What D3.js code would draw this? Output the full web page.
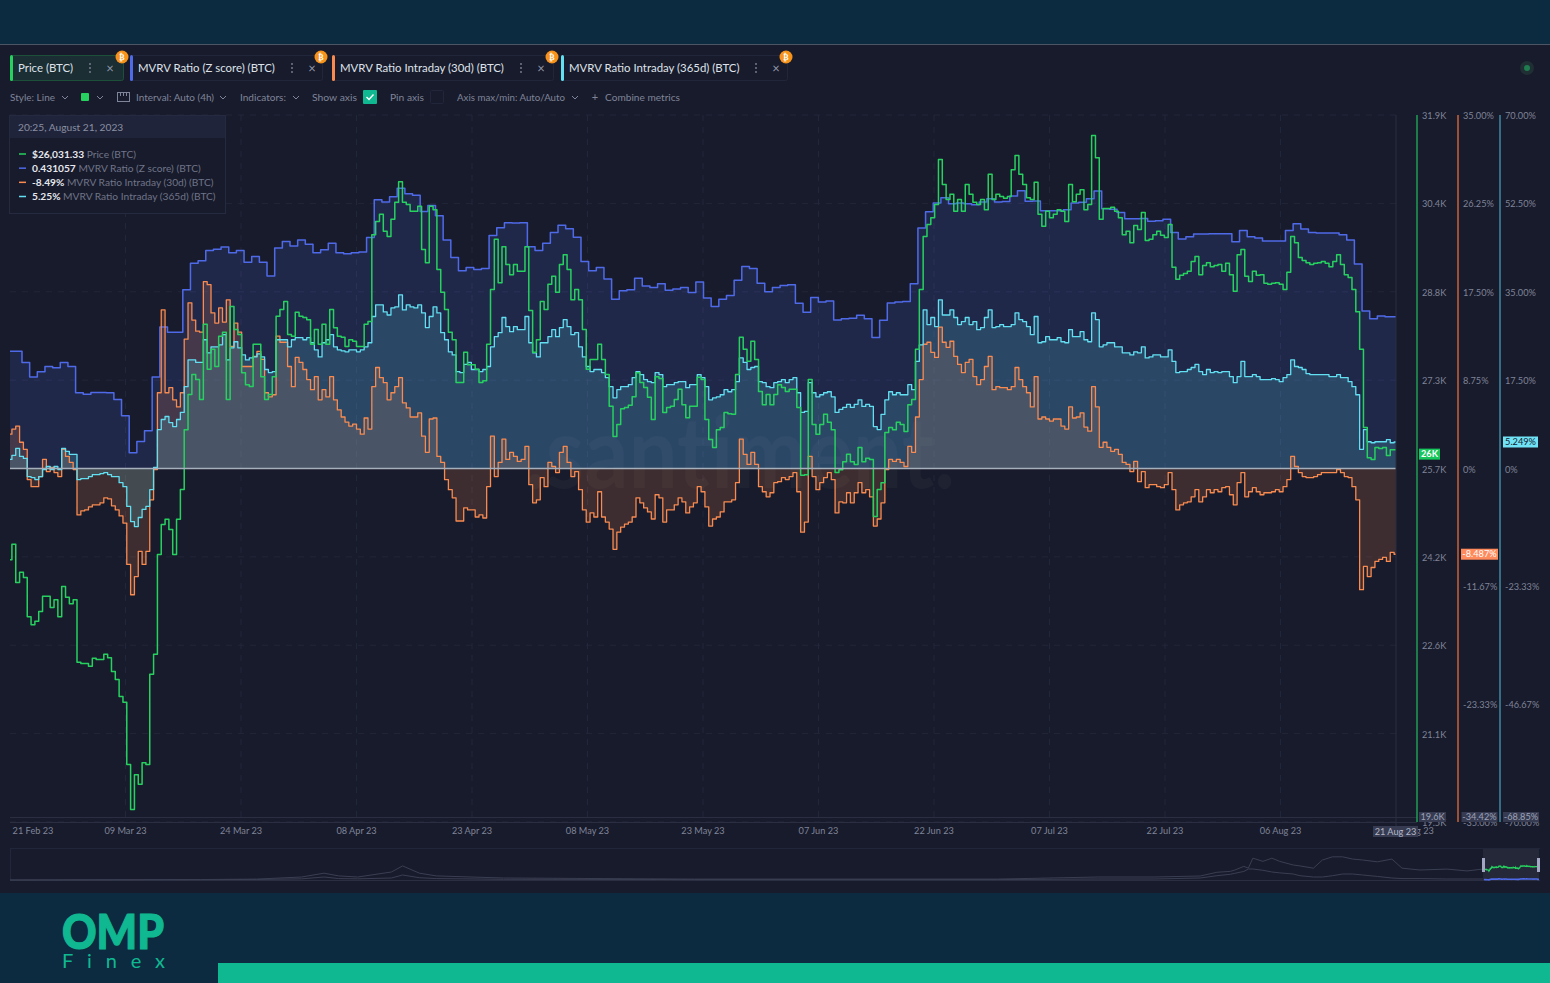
<!DOCTYPE html>
<html>
<head>
<meta charset="utf-8">
<title>BTC MVRV</title>
<script src="https://cdn.jsdelivr.net/npm/d3@7"></script>
<style>
  html, body { margin: 0; padding: 0; background: #0d2b40; }
  svg { display: block; }
  text { font-family: Lato, "Open Sans", sans-serif; }
</style>
</head>
<body>
<div id="chart"></div>
<script>
// 12h samples, 21 Feb 20:25 -> 21 Aug 20:25 (USD)
const priceValues = [
  24100,24370,23700,23880,23790,23100,22960,23020,23190,23460,23460,23260,23400,23100,23630,23440,23330,23400,22300,22280,
  22280,22230,22370,22350,22350,22440,22380,22140,22000,21700,21600,20510,19720,20330,20160,20540,20510,22090,22440,24190,
  24720,24810,24630,24190,24810,25330,26380,27000,27350,27260,26910,28230,27440,27790,27490,28020,28090,26910,28540,28140,
  28050,27380,27170,27140,27880,27880,27310,26910,27000,27310,28370,28490,28630,28050,28020,28440,28370,28350,28310,27880,
  28140,27880,28230,27880,28490,28170,28020,28000,27840,27960,27930,27840,27840,28230,28280,29800,30030,30160,29860,29770,
  30070,30370,30730,30370,30330,30210,30210,30300,29540,29310,30300,30240,29190,28790,28490,28090,27960,27210,27210,27740,
  27520,27520,27440,27210,27240,27880,28840,29720,28960,29590,29280,29100,29280,29160,29160,29590,28470,27740,27960,28630,
  28490,28930,29070,28790,29280,29450,29190,28660,28840,28660,28140,27440,27610,27610,27880,27610,27350,26790,26260,26470,
  26750,26770,26810,26960,27380,27210,27120,26950,26560,27310,27280,26680,26770,26790,26910,27090,26820,26590,26790,26790,
  27300,27260,26560,26210,26070,26380,26420,26680,26660,26650,27350,28000,27790,27580,27930,27610,27050,26820,27000,26820,
  27000,27170,27120,27050,27090,27090,26770,25580,25590,27260,26470,26300,26470,26650,26510,26380,25630,25680,25820,25950,
  25820,25770,26070,25820,25880,25860,24860,25330,25450,26330,26420,26380,26510,26470,26350,26820,26910,27790,28840,29770,
  29980,30100,30330,31120,30680,30420,30510,30210,30420,30210,30680,30510,30370,30330,30420,30240,30860,30420,30510,30470,
  30440,30470,30940,31190,30860,30680,30450,30420,30720,30160,29950,30210,30100,30160,30240,30210,30030,30680,30380,30510,
  30590,30240,30330,31540,31150,30070,30260,30260,30280,30210,30100,29800,29860,29660,29960,29890,30190,29700,29720,29800,
  29860,29790,29750,29980,29230,29020,29090,29120,29160,29330,29420,29100,29260,29310,29240,29260,29280,29160,29300,29100,
  28810,29450,29540,29070,28980,29160,29090,29100,28950,28930,28950,28960,28930,28840,29140,29770,29660,29400,29350,29310,
  29280,29300,29310,29330,29300,29240,29330,29450,29280,29100,29050,28840,28450,27790,26420,25890,25860,26070,26050,26070,
  25930,26030,26031
];

// MVRV intraday 30d (%), same 12h samples
const mvrv30Values = [
  3.4,3.9,4.2,2.6,1.9,-1.1,-1.8,-1.8,-0.8,0.9,-0.3,0.1,-0.4,-0.8,1.9,1.2,0.6,-0.1,-4.6,-4.2,
  -4.1,-3.8,-3.6,-3.6,-3.4,-2.9,-3.0,-3.7,-4.1,-4.7,-5.4,-9.5,-12.5,-10.7,-8.2,-9.5,-8.2,-3.1,-0.1,7.5,
  15.7,7.5,8.0,6.8,6.1,7.5,12.8,16.4,14.7,13.6,13.5,18.5,18.2,15.4,14.4,15.9,14.5,16.7,12.1,14.4,
  13.5,10.1,10.1,10.1,11.1,11.6,10.8,7.5,7.1,7.3,13.1,12.5,12.5,10.1,8.1,11.0,10.5,9.8,8.8,7.8,
  9.1,6.8,7.8,7.1,9.1,6.8,5.8,5.1,4.6,4.2,4.4,3.9,3.4,5.0,3.9,8.1,10.0,9.0,8.5,6.8,
  7.5,8.1,9.0,6.5,6.0,5.1,5.1,5.5,3.2,1.6,4.9,5.0,1.2,0.6,-1.1,-2.1,-2.9,-5.2,-5.2,-3.9,
  -4.1,-4.1,-4.8,-4.6,-4.9,-1.8,3.2,-0.8,0.6,2.9,0.9,1.6,1.2,0.7,0.9,2.2,-1.6,-3.4,-3.1,-0.9,
  -1.8,0.6,0.2,-0.4,1.6,2.2,0.6,-0.8,-0.3,-2.1,-4.1,-5.3,-4.4,-4.8,-2.3,-4.8,-5.3,-6.0,-8.0,-6.3,
  -5.8,-5.5,-5.3,-4.8,-2.9,-3.4,-3.9,-4.3,-5.0,-2.6,-2.9,-5.3,-4.1,-4.1,-3.6,-2.9,-3.3,-4.4,-3.8,-3.4,
  -1.8,-2.3,-3.8,-5.7,-5.0,-4.8,-4.3,-3.3,-3.3,-3.1,-1.4,2.9,1.4,0.4,1.6,0.4,-1.8,-2.3,-2.8,-2.4,
  -1.4,-1.3,-0.9,-1.1,-0.8,-0.4,-2.3,-6.3,-5.3,1.2,-0.8,-2.1,-1.4,-0.9,-0.4,-1.1,-4.4,-3.3,-3.4,-2.4,
  -3.4,-2.4,-1.4,-2.4,-2.1,-2.8,-5.7,-5.0,-3.4,-0.1,0.9,0.7,0.9,0.6,0.2,2.2,1.6,5.1,8.8,12.3,
  12.5,11.5,11.0,14.0,12.5,12.0,12.6,11.1,10.3,9.5,10.5,10.8,9.1,8.3,8.8,10.1,11.1,7.8,8.1,8.0,
  8.0,7.8,8.1,10.0,8.8,8.1,7.5,6.1,9.1,4.9,5.1,4.9,4.7,4.9,4.9,4.2,3.9,6.1,5.0,5.1,
  5.5,4.1,3.7,8.1,6.1,2.1,2.6,2.1,1.7,1.9,1.4,0.6,0.4,-0.3,0.7,-1.3,-0.3,-1.9,-1.6,-1.6,
  -1.8,-1.9,-1.6,-0.4,-2.1,-4.1,-3.6,-3.4,-3.3,-2.8,-2.1,-3.3,-2.8,-2.1,-2.4,-2.1,-2.3,-1.9,-1.8,-2.6,
  -3.6,-1.4,-0.4,-2.8,-2.3,-1.9,-2.3,-2.6,-2.4,-2.4,-2.3,-2.1,-2.3,-1.8,-1.1,1.2,0.2,-0.4,-0.8,-0.9,
  -0.9,-0.8,-0.6,-0.4,-0.4,-0.4,-0.4,-0.1,-0.4,-0.8,-0.9,-1.8,-3.1,-12.0,-9.7,-10.7,-9.8,-9.2,-9.0,-8.8,
  -9.2,-8.3,-8.49
];

// MVRV intraday 365d (%), same 12h samples
const mvrv365Values = [
  1.8,2.6,4.0,2.4,2.0,-1.6,-1.8,-2.2,-1.6,-0.2,0.4,-0.2,0.4,-0.2,4.0,3.4,2.8,2.8,-2.2,-2.0,
  -2.0,-1.6,-1.2,-1.2,-1.0,-0.8,-1.2,-1.6,-1.6,-2.8,-3.6,-7.5,-10.5,-11.5,-9.7,-8.1,-7.5,-4.2,0.2,7.7,
  9.7,10.3,9.1,8.3,9.7,11.1,16.2,21.5,21.5,21.0,21.0,25.5,22.9,24.1,24.1,24.5,26.5,21.5,23.9,25.1,
  23.9,22.5,21.5,21.9,22.1,22.7,22.1,19.6,19.0,19.2,25.5,25.5,25.5,24.1,25.5,25.9,25.9,25.5,25.9,24.9,
  23.5,22.1,24.9,25.5,26.5,24.1,23.5,23.3,23.1,23.5,23.5,23.1,23.5,24.1,24.9,30.1,32.4,32.4,31.0,30.4,
  31.8,32.0,34.4,31.4,32.4,32.0,31.8,32.4,30.8,27.9,30.1,32.0,30.8,26.9,25.5,23.1,22.5,19.2,19.0,20.6,
  21.0,19.6,19.6,19.2,19.6,20.2,24.1,26.1,26.9,29.9,28.1,27.1,28.1,27.5,27.5,30.1,24.9,22.9,22.1,24.9,
  24.9,26.1,27.5,26.1,27.9,29.5,28.1,26.5,26.9,24.1,22.1,20.2,19.2,19.6,19.6,19.0,18.0,16.2,14.0,15.6,
  16.2,16.2,16.6,18.0,19.2,18.6,17.6,17.2,17.0,19.0,18.6,16.2,16.6,16.6,17.0,17.2,17.2,16.0,16.6,16.6,
  18.6,18.0,16.2,13.6,14.0,14.2,14.6,15.6,15.2,15.6,17.2,21.9,21.0,19.6,20.0,20.2,17.2,17.0,16.2,16.0,
  17.0,17.2,17.6,17.0,17.6,18.0,15.0,11.1,11.3,17.0,15.0,14.2,14.6,15.0,15.2,14.2,11.1,11.7,12.1,12.7,
  12.1,12.7,13.6,12.3,12.7,12.3,8.3,7.7,10.7,13.6,15.2,14.6,15.0,14.6,14.6,16.6,15.6,21.2,24.5,31.4,
  28.5,29.9,28.1,33.4,30.4,30.4,31.4,29.9,28.5,29.1,29.9,28.5,29.1,27.5,27.9,29.9,31.4,27.9,28.1,28.5,
  28.1,28.1,28.5,30.8,29.5,29.1,28.1,26.5,30.1,24.9,25.1,26.1,25.5,25.5,25.9,25.1,24.9,27.5,26.1,26.1,
  27.1,25.5,25.1,30.8,29.5,24.1,24.5,24.9,24.9,24.1,24.1,22.9,22.9,22.5,23.1,22.9,24.1,21.9,22.1,22.5,
  22.5,22.1,22.1,23.5,21.2,19.0,19.2,19.2,19.6,20.0,20.6,19.2,18.6,19.6,19.0,19.2,19.0,19.2,19.2,18.2,
  17.0,18.2,21.2,18.2,18.2,18.6,18.2,17.6,17.6,17.6,17.8,17.6,17.2,18.0,18.6,21.5,20.2,20.0,19.6,18.8,
  18.6,18.6,18.6,18.6,18.6,18.2,18.2,18.6,18.0,18.0,17.2,16.2,14.6,3.8,7.7,5.3,5.1,5.3,5.3,5.3,
  5.7,5.1,5.25
];

// MVRV z score, one value per day from 21 Feb 10:00
const zScoreValues = [
  .333,.333,.301,.260,.275,.290,.286,.301,.290,.215,.211,.216,.216,.215,.196,.150,.045,.077,.107,.260,
  .402,.387,.387,.508,.583,.590,.619,.623,.629,.613,.619,.586,.602,.586,.547,.626,.645,.632,.649,.637,
  .613,.621,.640,.613,.610,.613,.615,.656,.763,.757,.772,.796,.780,.776,.730,.747,.718,.649,.599,.562,
  .571,.565,.568,.662,.684,.698,.697,.698,.630,.619,.640,.670,.691,.681,.657,.588,.562,.571,.538,.481,
  .505,.508,.540,.518,.514,.525,.506,.510,.514,.500,.530,.484,.460,.481,.491,.535,.574,.568,.526,.502,
  .514,.520,.522,.469,.444,.486,.473,.476,.422,.425,.427,.435,.425,.372,.421,.470,.473,.474,.525,.683,
  .729,.754,.769,.752,.754,.752,.749,.757,.766,.757,.758,.774,.789,.759,.760,.732,.732,.732,.735,.754,
  .756,.766,.788,.738,.736,.727,.709,.709,.710,.702,.704,.708,.670,.652,.658,.666,.666,.667,.667,.667,
  .644,.676,.658,.655,.646,.646,.646,.676,.695,.680,.670,.669,.669,.669,.664,.649,.581,.447,.425,.433,
  .431
];

const dateTicks = ['21 Feb 23','09 Mar 23','24 Mar 23','08 Apr 23','23 Apr 23','08 May 23','23 May 23','07 Jun 23','22 Jun 23','07 Jul 23','22 Jul 23','06 Aug 23','21 Aug 23'];
const priceTicks = [31900,30350,28800,27250,25700,24150,22600,21050,19500];
const priceTickLabels = ['31.9K','30.4K','28.8K','27.3K','25.7K','24.2K','22.6K','21.1K','19.5K'];
const mvrv30Ticks = [35,26.25,17.5,8.75,0,-11.67,-23.33,-35];
const mvrv365Ticks = [70,52.5,35,17.5,0,-23.33,-46.67,-70];

// overview strip: full history in years, price (thousand USD) and z score
const miniYears = [2010,2011.7,2012.2,2012.6,2012.8,2012.93,2013.1,2013.4,2013.5,2013.65,2013.8,2014.4,2016.1,2018.8,2019.7,2020.2,2020.61,2020.76,2020.88,2020.92,2021.0,2021.04,2021.08,2021.17,2021.25,2021.32,2021.44,2021.5,2021.62,2021.7,2021.79,2021.88,2021.97,2022.06,2022.19,2022.32,2022.41,2022.57,2022.81,2022.99,2023.13];
const miniPrice = [0,1,2,6.6,15,9,6.6,17.6,31,15,9,4.4,2,2,6.6,6.6,8.8,17,19,22,30,26,48,41,48,41,33,31,26,44,51,51,46,44,40,46,26,22,24,20,24];
const miniZ = [0,.2,.4,.8,2.1,1,.8,1.4,3.5,1.6,1,.5,.3,.3,.7,.7,1.4,3,4,4.7,6,7.7,7.7,6.8,5.6,5,4.2,3,2.1,2.1,3,4.2,4.2,3.5,2.5,1.4,1,1,.7,.7,.7];

const tabLabels = ['Price (BTC)','MVRV Ratio (Z score) (BTC)','MVRV Ratio Intraday (30d) (BTC)','MVRV Ratio Intraday (365d) (BTC)'];
const legendValues = ['$26,031.33','0.431057','-8.49%','5.25%'];
const legendNames = ['Price (BTC)','MVRV Ratio (Z score) (BTC)','MVRV Ratio Intraday (30d) (BTC)','MVRV Ratio Intraday (365d) (BTC)'];

const GREEN = '#26d15f', BLUE = '#4f6ae8', ORANGE = '#f98b50', CYAN = '#62e0f2';
const panel = '#181b2b', tickColor = '#7f8499', faint = '#22263a';
const seriesColors = [GREEN, BLUE, ORANGE, CYAN];

const W = 1550, H = 983;
const plot = { left: 10, right: 1396, top: 115, bottom: 822 };

const svg = d3.select('#chart').append('svg').attr('width', W).attr('height', H);

// page frame
svg.append('rect').attr('width', W).attr('height', H).attr('fill', '#0d2b40');
svg.append('rect').attr('y', 44).attr('width', W).attr('height', 849).attr('fill', panel);
svg.append('line').attr('x1', 0).attr('x2', W).attr('y1', 44.5).attr('y2', 44.5).attr('stroke', '#4b5563');
svg.append('rect').attr('x', 218).attr('y', 963).attr('width', W - 218).attr('height', 20).attr('fill', '#10b891');

// scales
const start = new Date(Date.UTC(2023, 1, 21, 20, 25));
const end = new Date(Date.UTC(2023, 7, 21, 20, 25));
const x = d3.scaleUtc().domain([start, end]).range([plot.left, plot.right]);
const xTick = d3.scalePoint().domain(dateTicks).range([plot.left, plot.right]);
const yPrice = d3.scaleLinear().domain([19500, 31900]).range([plot.bottom, plot.top]);
const y30 = d3.scaleLinear().domain([-35, 35]).range([plot.bottom, plot.top]);
const y365 = d3.scaleLinear().domain([-70, 70]).range([plot.bottom, plot.top]);
const yZ = d3.scaleLinear().domain([-1.004, 1.004]).range([plot.bottom, plot.top]);

const halfDay = i => d3.utcHour.offset(start, 12 * i);
const zDate = i => d3.utcDay.offset(new Date(Date.UTC(2023, 1, 21, 10)), i);

// grid
const grid = svg.append('g').attr('stroke', faint).attr('stroke-dasharray', '6 6');
grid.selectAll('.h').data(priceTicks).enter().append('line')
  .attr('x1', plot.left).attr('x2', plot.right)
  .attr('y1', d => yPrice(d)).attr('y2', d => yPrice(d));
grid.selectAll('.v').data(dateTicks.slice(1, -1)).enter().append('line')
  .attr('x1', d => xTick(d)).attr('x2', d => xTick(d))
  .attr('y1', plot.top).attr('y2', plot.bottom);

// watermark
svg.append('text').text('.santiment.')
  .attr('x', 525).attr('y', 488).attr('textLength', 430).attr('lengthAdjust', 'spacingAndGlyphs')
  .attr('font-size', 100).attr('font-weight', 700).attr('fill', '#fff').attr('fill-opacity', 0.03);

svg.append('defs').append('clipPath').attr('id', 'plot-clip').append('rect')
  .attr('x', plot.left).attr('y', plot.top)
  .attr('width', plot.right - plot.left).attr('height', plot.bottom - plot.top);

const marks = svg.append('g').attr('clip-path', 'url(#plot-clip)');

// z score is stepped, one level per day
const zData = zScoreValues.map((v, i) => ({ date: zDate(i), value: v }));
zData.push({ date: end, value: zScoreValues[zScoreValues.length - 1] });

function addArea(data, scale, color, curve) {
  marks.append('path').datum(data)
    .attr('fill', color).attr('fill-opacity', 0.17)
    .attr('d', d3.area().curve(curve)
      .x(d => x(d.date)).y0(scale(0)).y1(d => scale(d.value)));
}
function addLine(data, scale, color, width, curve) {
  marks.append('path').datum(data)
    .attr('fill', 'none').attr('stroke', color).attr('stroke-width', width)
    .attr('stroke-linejoin', 'round')
    .attr('d', d3.line().curve(curve).x(d => x(d.date)).y(d => scale(d.value)));
}
const toSeries = values => values.map((v, i) => ({ date: halfDay(i), value: v }));
const priceData = toSeries(priceValues);
const data30 = toSeries(mvrv30Values);
const data365 = toSeries(mvrv365Values);

addArea(zData, yZ, BLUE, d3.curveStepAfter);
addArea(data30, y30, ORANGE, d3.curveStep);
addArea(data365, y365, CYAN, d3.curveStep);
addLine(zData, yZ, BLUE, 1.5, d3.curveStepAfter);
addLine(data30, y30, ORANGE, 1.3, d3.curveStep);
addLine(data365, y365, CYAN, 1.3, d3.curveStep);
addLine(priceData, yPrice, GREEN, 1.5, d3.curveStep);

// zero line and cursor lines
svg.append('line').attr('x1', plot.left).attr('x2', plot.right)
  .attr('y1', y30(0)).attr('y2', y30(0)).attr('stroke', '#a6b0bd').attr('stroke-width', 1.3);
svg.append('line').attr('x1', plot.right).attr('x2', plot.right)
  .attr('y1', plot.top).attr('y2', 826).attr('stroke', '#2a2e40');
svg.append('line').attr('x1', plot.left).attr('x2', 1417)
  .attr('y1', 817.5).attr('y2', 817.5).attr('stroke', '#2a2e40');
svg.append('line').attr('x1', plot.left).attr('x2', 1417)
  .attr('y1', 822.5).attr('y2', 822.5).attr('stroke', '#2a2e40');

// right axes
function rightAxis(axisX, color, scale, ticks, labels) {
  svg.append('line').attr('x1', axisX).attr('x2', axisX)
    .attr('y1', plot.top).attr('y2', plot.bottom)
    .attr('stroke', color).attr('stroke-width', 1.5);
  svg.append('g').selectAll('text').data(ticks).enter().append('text')
    .attr('x', axisX + 5).attr('y', d => scale(d) + 0.8).attr('dy', '0.35em')
    .attr('font-size', 9.2).attr('fill', tickColor)
    .text((d, i) => labels[i]);
}
const pctLabel = d => d === 0 ? '0%' : d.toFixed(2) + '%';
rightAxis(1417, '#1f9e55', yPrice, priceTicks, priceTickLabels);
rightAxis(1458, '#c9643c', y30, mvrv30Ticks, mvrv30Ticks.map(pctLabel));
rightAxis(1500, '#3f8aa3', y365, mvrv365Ticks, mvrv365Ticks.map(pctLabel));

// date axis
svg.append('g').selectAll('text').data(dateTicks).enter().append('text')
  .attr('x', (d, i) => i === 0 ? 33 : i === dateTicks.length - 1 ? 1413 : xTick(d))
  .attr('y', 831).attr('dy', '0.35em').attr('text-anchor', 'middle')
  .attr('font-size', 9.2).attr('fill', tickColor).text(d => d);

function chip(cx, cy, w, h, bg, fg, label, bold) {
  svg.append('rect').attr('x', cx - w / 2).attr('y', cy - h / 2).attr('width', w).attr('height', h).attr('fill', bg);
  svg.append('text').attr('x', cx).attr('y', cy).attr('dy', '0.35em').attr('text-anchor', 'middle')
    .attr('font-size', 9.2).attr('font-weight', bold ? 700 : 400).attr('fill', fg).text(label);
}
const lastPrice = priceValues[priceValues.length - 1];
chip(1429.5, yPrice(lastPrice) + 4.5, 21, 11, '#16c75c', '#fff', '26K', true);
chip(1479.5, y30(-8.487), 37, 11, '#ff8a5c', '#fff', '-8.487%');
chip(1520.5, y365(5.249), 35, 11, '#6fe3f5', '#14202e', '5.249%');
chip(1432.5, 817, 27, 10, '#363b52', '#9da2b6', '19.6K');
chip(1479.5, 817, 36, 10, '#363b52', '#9da2b6', '-34.42%');
chip(1521, 817, 36, 10, '#363b52', '#9da2b6', '-68.85%');
chip(1395.5, 831.5, 45, 11, '#363b52', '#b4b8c8', '21 Aug 23');

// tabs
const tabBoxes = [[10, 113], [130, 192], [332, 221], [561, 226]];
const tabDots = [90, 292, 521, 756], tabClose = [110, 312, 541, 776];
tabLabels.forEach((label, i) => {
  const [tx, tw] = tabBoxes[i];
  const g = svg.append('g');
  g.append('rect').attr('x', tx + 0.5).attr('y', 55.5).attr('width', tw).attr('height', 25).attr('rx', 2)
    .attr('fill', i === 0 ? '#1a2e33' : panel).attr('stroke', i === 0 ? '#1c5038' : faint);
  g.append('rect').attr('x', tx).attr('y', 55).attr('width', 3).attr('height', 26).attr('rx', 1.5).attr('fill', seriesColors[i]);
  g.append('text').attr('x', tx + 8).attr('y', 68.5).attr('dy', '0.35em')
    .attr('font-size', 11.4).attr('fill', '#dfe2ea').text(label);
  [-4, 0, 4].forEach(o => g.append('circle').attr('cx', tabDots[i]).attr('cy', 68 + o).attr('r', 0.9).attr('fill', '#7f8499'));
  g.append('text').attr('x', tabClose[i]).attr('y', 68).attr('dy', '0.35em').attr('text-anchor', 'middle')
    .attr('font-size', 13).attr('fill', '#9297aa').text('×');
  g.append('circle').attr('cx', tx + tw - 1).attr('cy', 57).attr('r', 6.5).attr('fill', '#f7931a');
  g.append('text').attr('x', tx + tw - 1).attr('y', 57).attr('dy', '0.35em').attr('text-anchor', 'middle')
    .attr('font-size', 8).attr('font-weight', 700).style('font-family', '"DejaVu Sans"').attr('fill', '#fff').text('₿');
});

// toolbar
const toolbarText = [[10, 'Style: Line', 45], [136, 'Interval: Auto (4h)', 78], [240, 'Indicators:', 46], [312, 'Show axis', 45], [390, 'Pin axis', 34], [457, 'Axis max/min: Auto/Auto', 108], [605, 'Combine metrics', 75]];
svg.append('g').selectAll('text').data(toolbarText).enter().append('text')
  .attr('x', d => d[0]).attr('y', 97.5).attr('dy', '0.35em')
  .attr('textLength', d => d[2]).attr('lengthAdjust', 'spacingAndGlyphs')
  .attr('font-size', 10.2).attr('fill', tickColor).text(d => d[1]);
[65, 100, 223, 296, 575].forEach(cx => {
  svg.append('path').attr('d', `M${cx - 3},96 L${cx},99 L${cx + 3},96`)
    .attr('fill', 'none').attr('stroke', tickColor);
});
svg.append('text').attr('x', 595).attr('y', 97).attr('dy', '0.35em').attr('text-anchor', 'middle')
  .attr('font-size', 11).attr('fill', tickColor).text('+');
svg.append('rect').attr('x', 81).attr('y', 93).attr('width', 8).attr('height', 8).attr('rx', 1).attr('fill', GREEN);
svg.append('rect').attr('x', 117.5).attr('y', 92.5).attr('width', 12).attr('height', 9)
  .attr('fill', 'none').attr('stroke', tickColor);
[120.5, 123.5, 126.5].forEach(tx => svg.append('line').attr('x1', tx).attr('x2', tx).attr('y1', 92.5).attr('y2', 96).attr('stroke', tickColor));
svg.append('rect').attr('x', 363).attr('y', 90).attr('width', 14).attr('height', 14).attr('rx', 1).attr('fill', '#10b891');
svg.append('path').attr('d', 'M366.5,97 L369,99.5 L373.5,94.5').attr('fill', 'none').attr('stroke', '#fff').attr('stroke-width', 1.4);
svg.append('rect').attr('x', 430.5).attr('y', 90.5).attr('width', 13).attr('height', 13).attr('rx', 1).attr('fill', 'none').attr('stroke', faint);

// status dot
svg.append('circle').attr('cx', 1527).attr('cy', 68).attr('r', 7).attr('fill', '#1f2f33');
svg.append('circle').attr('cx', 1527).attr('cy', 68).attr('r', 3).attr('fill', '#1f7d50');

// legend box
svg.append('rect').attr('x', 9.5).attr('y', 115.5).attr('width', 216).attr('height', 98)
  .attr('fill', panel).attr('stroke', '#262a40');
svg.append('rect').attr('x', 10).attr('y', 116).attr('width', 215).attr('height', 22).attr('fill', '#20243a');
svg.append('text').attr('x', 18).attr('y', 127).attr('dy', '0.35em')
  .attr('font-size', 10.2).attr('fill', '#8a8fa3').text('20:25, August 21, 2023');
const legendY = d3.scalePoint().domain(d3.range(4)).range([154, 196.5]);
legendNames.forEach((name, i) => {
  const ly = legendY(i);
  svg.append('line').attr('x1', 19).attr('x2', 26).attr('y1', ly).attr('y2', ly)
    .attr('stroke', seriesColors[i]).attr('stroke-width', 1.5);
  const t = svg.append('text').attr('x', 32).attr('y', ly).attr('dy', '0.35em').attr('font-size', 10.2);
  t.append('tspan').attr('fill', '#e6e8ef').attr('font-weight', 700).text(legendValues[i]);
  t.append('tspan').attr('fill', '#6f7489').text(' ' + name);
});

// overview strip
const miniTop = 849, miniBase = 880;
const miniX = d3.scaleLinear().domain([2010, 2023.64]).range([10, 1540]);
const miniYPrice = d3.scaleLinear().domain([0, 68.2]).range([miniBase, miniTop]);
const miniYZ = d3.scaleLinear().domain([0, 21.7]).range([miniBase, miniTop]);
svg.append('line').attr('x1', 10).attr('x2', 1540).attr('y1', 848.5).attr('y2', 848.5).attr('stroke', faint);
svg.append('line').attr('x1', 10).attr('x2', 1540).attr('y1', 880.5).attr('y2', 880.5).attr('stroke', '#2a2e40');
svg.append('line').attr('x1', 10.5).attr('x2', 10.5).attr('y1', 848).attr('y2', 880).attr('stroke', faint);
svg.append('rect').attr('x', 1483).attr('y', 849).attr('width', 56).attr('height', 31).attr('fill', '#252838');
const miniLine = yScale => d3.line().x((d, i) => miniX(miniYears[i])).y(d => yScale(d));
svg.append('path').datum(miniPrice).attr('fill', 'none').attr('stroke', '#3a3e52').attr('d', miniLine(miniYPrice));
svg.append('path').datum(miniZ).attr('fill', 'none').attr('stroke', '#3a3e52').attr('d', miniLine(miniYZ));
const winX = d3.scaleUtc().domain([start, end]).range([1484, 1539]);
svg.append('path').datum(priceData).attr('fill', 'none').attr('stroke', GREEN).attr('stroke-width', 1.2)
  .attr('d', d3.line().x(d => winX(d.date)).y(d => miniYPrice(d.value / 1000)));
svg.append('path').datum(zData).attr('fill', 'none').attr('stroke', BLUE).attr('stroke-width', 1.6)
  .attr('d', d3.line().x(d => winX(d.date)).y(d => miniYZ(d.value)));
[1483.5, 1538.5].forEach(hx => svg.append('rect').attr('x', hx - 1.5).attr('y', 858).attr('width', 3).attr('height', 14).attr('fill', '#a3a7c4'));

// logo
svg.append('text').text('OMP').attr('x', 62).attr('y', 949)
  .attr('textLength', 102).attr('lengthAdjust', 'spacingAndGlyphs')
  .attr('font-size', 47).attr('font-weight', 900).attr('fill', '#10b891')
  .attr('stroke', '#10b891').attr('stroke-width', 1.2);
svg.append('text').text('Finex').attr('x', 62).attr('y', 968)
  .attr('textLength', 103).attr('font-size', 20).attr('fill', '#10b891');
</script>
</body>
</html>
